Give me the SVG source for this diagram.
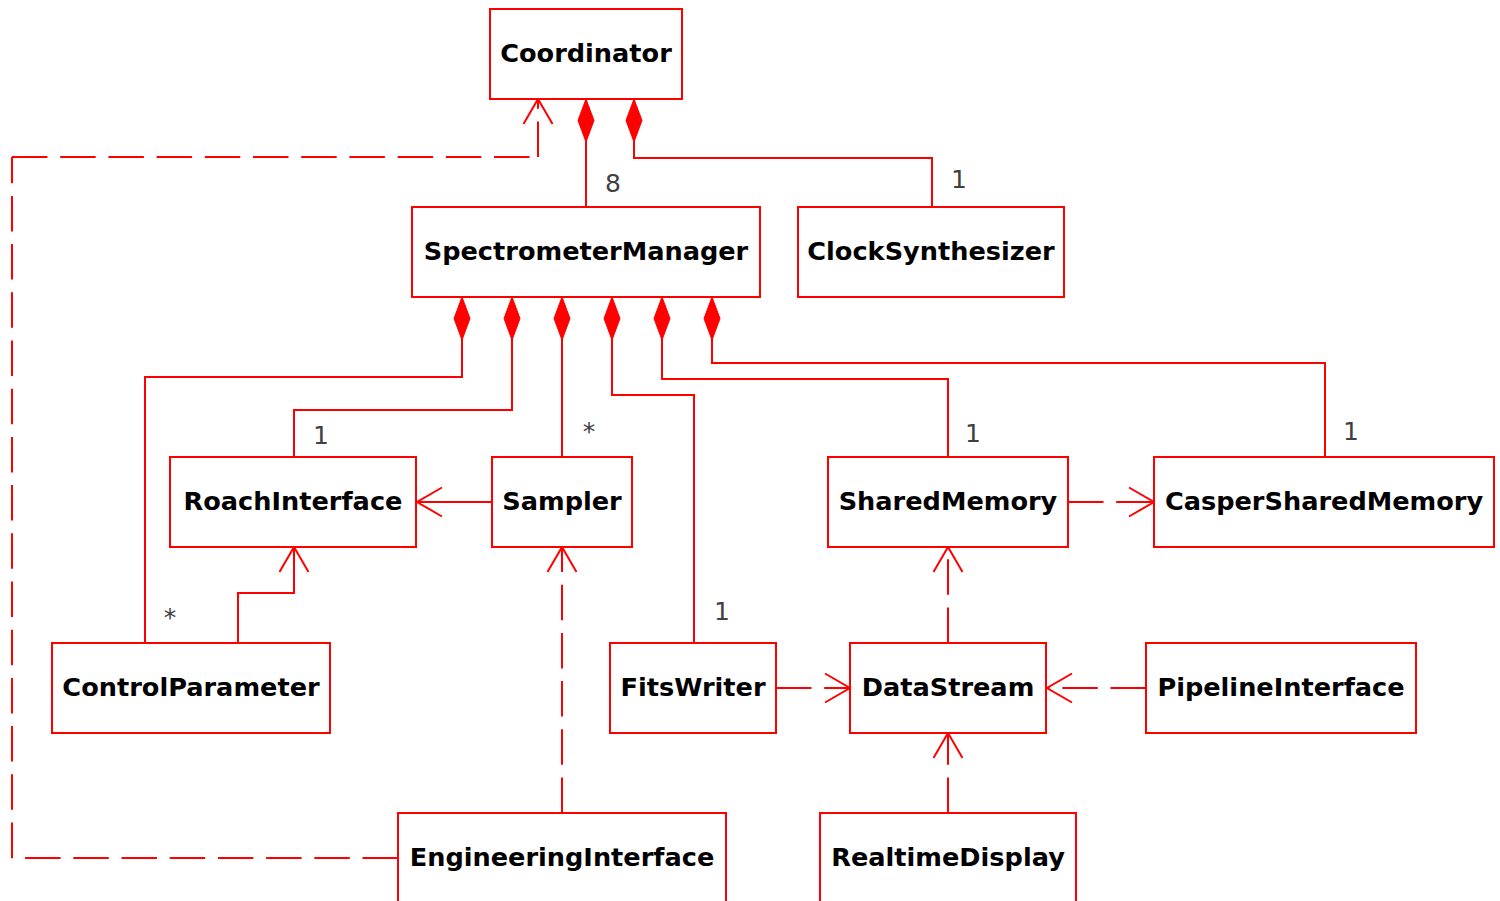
<svg xmlns="http://www.w3.org/2000/svg" width="1500" height="901" viewBox="0 0 1500 901">
  <style>
    .box rect { fill: #ffffff; stroke: #ff0000; stroke-width: 2; }
    .box text { font-family: "DejaVu Sans", Verdana, sans-serif; font-weight: bold; font-size: 25.6px; fill: #000000; text-anchor: middle; }
    .mult { font-family: "DejaVu Sans", Verdana, sans-serif; font-size: 25px; fill: #404040; text-anchor: middle; }
    .edge { fill: none; stroke: #ff0000; stroke-width: 2; }
    .comp { marker-start: url(#diamond); }
    .nav { marker-end: url(#open); }
    .dep { stroke-dasharray: 35.5 12.7; marker-end: url(#open); }
  </style>
  <defs>
    <!-- filled diamond for composition ends -->
    <marker id="diamond" markerUnits="userSpaceOnUse" viewBox="-2 -10 48 20" markerWidth="48" markerHeight="20" refX="0" refY="0" orient="auto">
      <path d="M0,0 L21.5,-8 L43,0 L21.5,8 Z" fill="#ff0000" stroke="#ff0000" stroke-width="1"/>
    </marker>
    <!-- open arrowhead for navigable associations and dependencies -->
    <marker id="open" markerUnits="userSpaceOnUse" viewBox="-28 -17 31 34" markerWidth="31" markerHeight="34" refX="0" refY="0" orient="auto">
      <path d="M-25,-14.5 L0,0 L-25,14.5" fill="none" stroke="#ff0000" stroke-width="2"/>
    </marker>
  </defs>

  <g id="connectors">
    <!-- compositions -->
    <path class="edge comp" d="M586,99 V207"/>
    <path class="edge comp" d="M634,99 V158 H932 V207"/>
    <path class="edge comp" d="M462,297 V377 H145 V643"/>
    <path class="edge comp" d="M512,297 V410 H294 V457"/>
    <path class="edge comp" d="M562,297 V457"/>
    <path class="edge comp" d="M612,297 V395 H694 V643"/>
    <path class="edge comp" d="M662,297 V379 H948 V457"/>
    <path class="edge comp" d="M712,297 V363 H1325 V457"/>
    <!-- navigable associations -->
    <path class="edge nav" d="M492,502 H417"/>
    <path class="edge nav" d="M238,643 V593 H294 V547"/>
    <!-- dependencies -->
    <path class="edge dep" d="M398,858 H12 M12,858 V157 M12,157 H538 M538,157 V99"/>
    <path class="edge dep" d="M562,813 V547"/>
    <path class="edge dep" d="M1068,502 H1154"/>
    <path class="edge dep" d="M948,643 V547"/>
    <path class="edge dep" d="M776,688 H850"/>
    <path class="edge dep" d="M1146,688 H1047"/>
    <path class="edge dep" d="M948,813 V733"/>
    <!-- multiplicities -->
    <text class="mult" x="613" y="192">8</text>
    <text class="mult" x="959" y="188">1</text>
    <text class="mult" x="321" y="444">1</text>
    <text class="mult" x="589" y="440">*</text>
    <text class="mult" x="973" y="442">1</text>
    <text class="mult" x="1351" y="440">1</text>
    <text class="mult" x="170" y="626">*</text>
    <text class="mult" x="722" y="620">1</text>
  </g>

  <g id="Coordinator" class="box"><rect x="490" y="9" width="192" height="90"/><text x="586" y="62">Coordinator</text></g>
  <g id="SpectrometerManager" class="box"><rect x="412" y="207" width="348" height="90"/><text x="586" y="260">SpectrometerManager</text></g>
  <g id="ClockSynthesizer" class="box"><rect x="798" y="207" width="266" height="90"/><text x="931" y="260">ClockSynthesizer</text></g>
  <g id="RoachInterface" class="box"><rect x="170" y="457" width="246" height="90"/><text x="293" y="510">RoachInterface</text></g>
  <g id="Sampler" class="box"><rect x="492" y="457" width="140" height="90"/><text x="562" y="510">Sampler</text></g>
  <g id="SharedMemory" class="box"><rect x="828" y="457" width="240" height="90"/><text x="948" y="510">SharedMemory</text></g>
  <g id="CasperSharedMemory" class="box"><rect x="1154" y="457" width="340" height="90"/><text x="1324" y="510">CasperSharedMemory</text></g>
  <g id="ControlParameter" class="box"><rect x="52" y="643" width="278" height="90"/><text x="191" y="696">ControlParameter</text></g>
  <g id="FitsWriter" class="box"><rect x="610" y="643" width="166" height="90"/><text x="693" y="696">FitsWriter</text></g>
  <g id="DataStream" class="box"><rect x="850" y="643" width="196" height="90"/><text x="948" y="696">DataStream</text></g>
  <g id="PipelineInterface" class="box"><rect x="1146" y="643" width="270" height="90"/><text x="1281" y="696">PipelineInterface</text></g>
  <g id="EngineeringInterface" class="box"><rect x="398" y="813" width="328" height="100"/><text x="562" y="866">EngineeringInterface</text></g>
  <g id="RealtimeDisplay" class="box"><rect x="820" y="813" width="256" height="100"/><text x="948" y="866">RealtimeDisplay</text></g>
</svg>
